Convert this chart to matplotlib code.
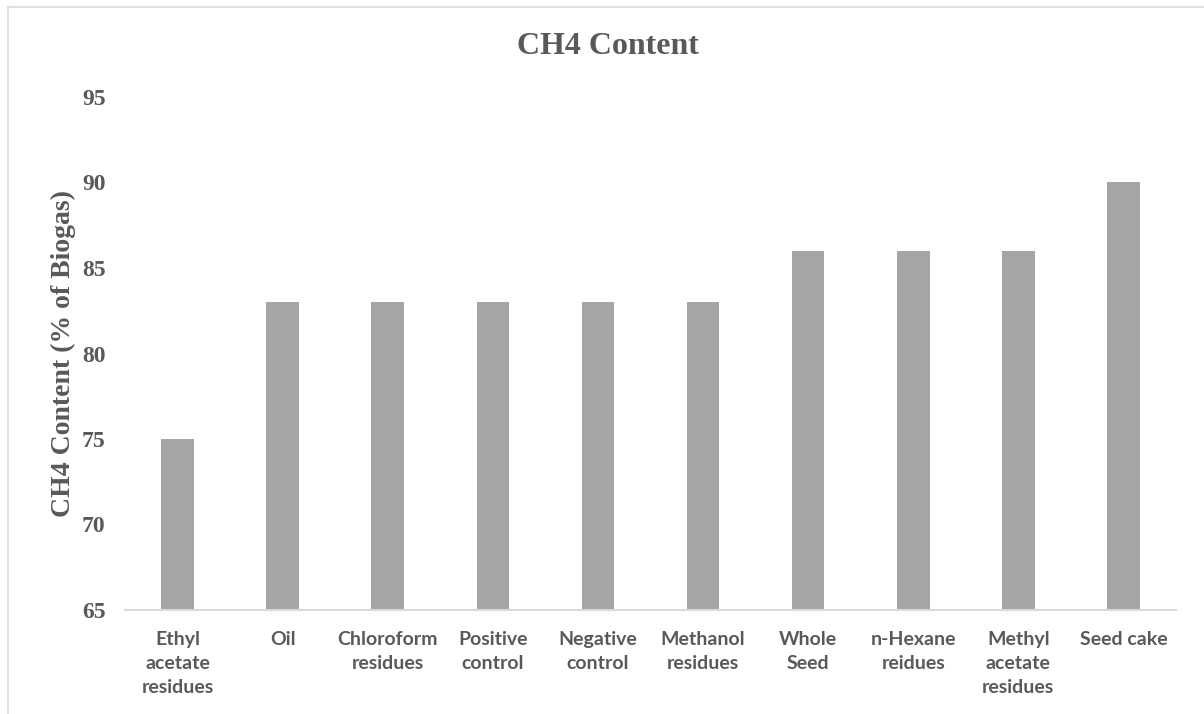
import matplotlib.pyplot as plt
from matplotlib.patches import Rectangle

categories = [
    "Ethyl\nacetate\nresidues",
    "Oil",
    "Chloroform\nresidues",
    "Positive\ncontrol",
    "Negative\ncontrol",
    "Methanol\nresidues",
    "Whole\nSeed",
    "n-Hexane\nreidues",
    "Methyl\nacetate\nresidues",
    "Seed cake",
]
ch4_content = [75, 83, 83, 83, 83, 83, 86, 86, 86, 90]
y_ticks = [65, 70, 75, 80, 85, 90, 95]

text_color = "#595959"
bar_color = "#a5a5a5"
line_color = "#d9d9d9"

fig = plt.figure(figsize=(12.04, 7.14), dpi=100)
ax = fig.add_axes([125 / 1204, 1 - 610 / 714, (1176 - 125) / 1204, (610 - 97) / 714])

# chart area frame (runs off the right and bottom edges)
fig.patches.append(Rectangle((8 / 1204, -0.05), 1.2, 1 - 7 / 714 + 0.05,
                             transform=fig.transFigure, fill=False,
                             edgecolor=line_color, linewidth=1.2))

x = range(len(categories))
ax.bar(x, ch4_content, width=0.31, color=bar_color, zorder=2)

ax.set_xlim(-0.5, len(categories) - 0.5)
ax.set_ylim(y_ticks[0], y_ticks[-1])
ax.set_yticks(y_ticks)
ax.set_yticklabels([str(v) for v in y_ticks], fontfamily="Liberation Serif",
                   fontweight="bold", fontsize=17, color=text_color)
ax.set_xticks(list(x))
ax.set_xticklabels(categories, fontfamily="Lato", fontweight="bold",
                   fontsize=14, color=text_color, linespacing=1.5)
ax.tick_params(axis="y", length=0, pad=14)
ax.tick_params(axis="x", length=0, pad=15)

for side in ["top", "right", "left"]:
    ax.spines[side].set_visible(False)
ax.spines["bottom"].set_color(line_color)
ax.spines["bottom"].set_linewidth(1.5)

ax.set_ylabel("CH4 Content (% of Biogas)", fontfamily="Liberation Serif",
              fontweight="bold", fontsize=20, color=text_color, labelpad=4)
fig.text(608 / 1204, 1 - 47 / 714, "CH4 Content", ha="center", va="center",
         fontfamily="Liberation Serif", fontweight="bold", fontsize=23,
         color=text_color)

fig.savefig("out.png", dpi=100, facecolor="white")
